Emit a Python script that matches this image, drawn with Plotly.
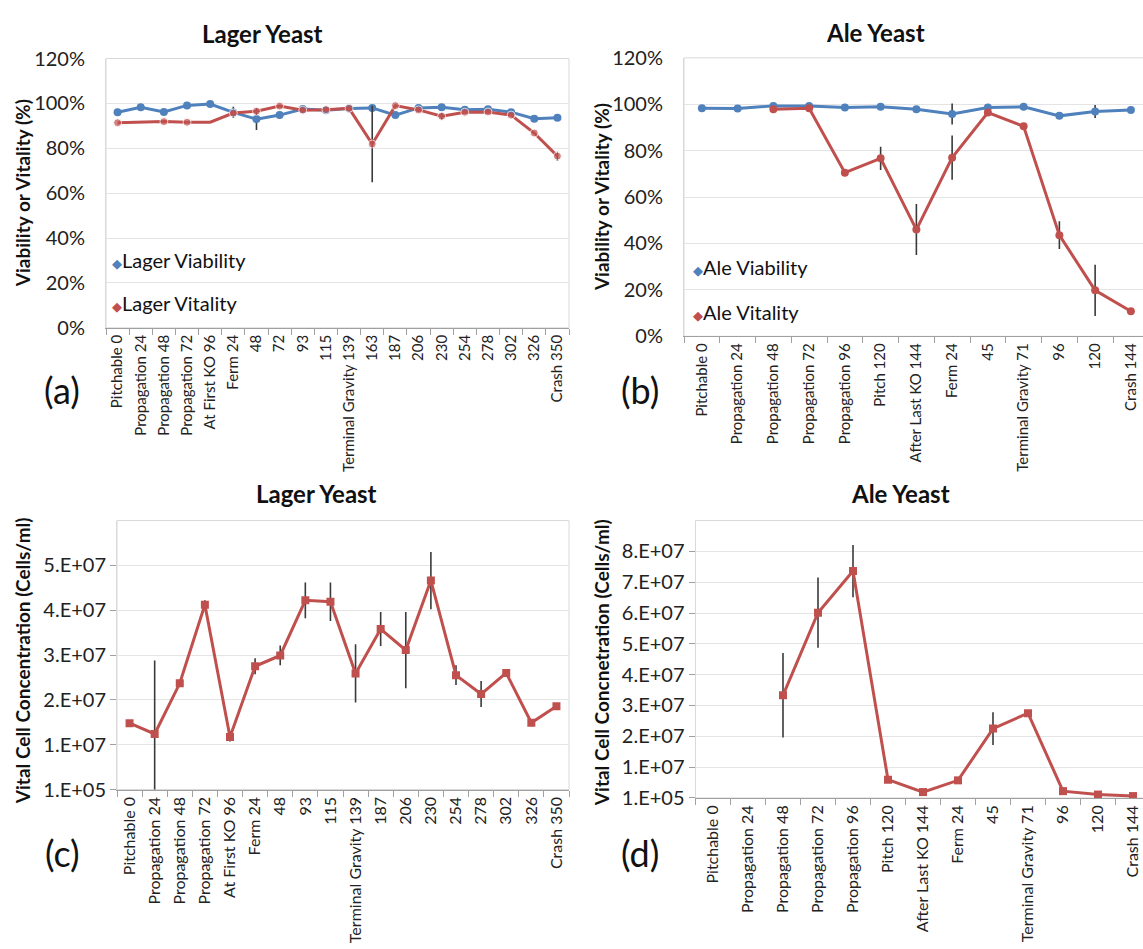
import plotly.graph_objects as go

# ---------------- data ----------------
LAGER_STAGES = ["Pitchable 0", "Propagation 24", "Propagation 48", "Propagation 72",
                "At First KO 96", "Ferm 24", "48", "72", "93", "115",
                "Terminal Gravity 139", "163", "187", "206", "230", "254", "278",
                "302", "326", "Crash 350"]
lager_viability = [96.1, 98.3, 96.2, 99.1, 99.7, 96.0, 93.0, 94.8, 97.5, 97.0,
                   97.7, 98.0, 94.8, 98.0, 98.3, 97.2, 97.4, 96.1, 93.2, 93.6]
lager_viability_err = [1.5, 0, 0, 0, 0, 2.5, 4.8, 1.5, 1.5, 0,
                       0, 0, 1.0, 0, 0, 0, 0, 0, 0, 0]
lager_vitality = [91.4, None, 91.9, 91.6, 91.6, 95.7, 96.5, 98.8, 97.0, 97.2,
                  97.8, 81.9, 99.0, 97.1, 94.3, 96.1, 96.2, 94.8, 86.8, 76.5]
lager_vitality_err = [0, 0, 0, 0, 0, 0, 0, 0, 0, 0,
                      0, 17.0, 0, 0, 1.5, 0, 0, 0, 0, 2.0]
lager_vitality_marker = [8, 8, 8, 8, 0, 8, 8, 8, 8, 8,
                         8, 8, 8, 8, 8, 8, 8, 8, 8, 8]

ALE_STAGES = ["Pitchable 0", "Propagation 24", "Propagation 48", "Propagation 72",
              "Propagation 96", "Pitch 120", "After Last KO 144", "Ferm 24", "45",
              "Terminal Gravity 71", "96", "120", "Crash 144"]
ale_viability = [98.3, 98.2, 99.3, 99.2, 98.6, 98.9, 97.8, 95.8, 98.6, 98.9, 95.0, 96.9, 97.5]
ale_viability_err = [0, 0, 0, 0, 0, 0, 0, 4.5, 0, 0, 0, 2.8, 0]
ale_vitality = [None, None, 97.9, 98.3, 70.5, 76.7, 46.0, 77.0, 96.4, 90.5, 43.6, 19.8, 10.8]
ale_vitality_err = [0, 0, 0, 0, 0, 5.0, 11.0, 9.5, 0, 0, 6.0, 11.0, 0]

LAGER_CONC_STAGES = ["Pitchable 0", "Propagation 24", "Propagation 48", "Propagation 72",
                     "At First KO 96", "Ferm 24", "48", "93", "115",
                     "Terminal Gravity 139", "187", "206", "230", "254", "278",
                     "302", "326", "Crash 350"]
lager_conc = [1.49e7, 1.25e7, 2.38e7, 4.13e7, 1.18e7, 2.76e7, 3.00e7, 4.23e7, 4.20e7,
              2.60e7, 3.59e7, 3.12e7, 4.67e7, 2.56e7, 2.14e7, 2.61e7, 1.50e7, 1.87e7]
lager_conc_err = [0, 1.64e7, 0, 0.10e7, 0.10e7, 0.18e7, 0.22e7, 0.40e7, 0.43e7,
                  0.65e7, 0.38e7, 0.85e7, 0.64e7, 0.22e7, 0.29e7, 0, 0.08e7, 0]

ale_conc = [None, None, 3.34e7, 6.02e7, 7.37e7, 0.60e7, 0.20e7, 0.58e7, 2.26e7,
            2.76e7, 0.23e7, 0.12e7, 0.07e7]
ale_conc_err = [0, 0, 1.37e7, 1.14e7, 0.85e7, 0, 0, 0, 0.53e7, 0, 0, 0, 0]

PCT_TICKS = [0, 20, 40, 60, 80, 100, 120]
PCT_LABELS = ["0%", "20%", "40%", "60%", "80%", "100%", "120%"]
CONC_TICKS_LAGER = [1e5, 1.01e7, 2.01e7, 3.01e7, 4.01e7, 5.01e7]
CONC_LABELS_LAGER = ["1.E+05", "1.E+07", "2.E+07", "3.E+07", "4.E+07", "5.E+07"]
CONC_TICKS_ALE = [1e5, 1.01e7, 2.01e7, 3.01e7, 4.01e7, 5.01e7, 6.01e7, 7.01e7, 8.01e7]
CONC_LABELS_ALE = ["1.E+05", "1.E+07", "2.E+07", "3.E+07", "4.E+07", "5.E+07",
                   "6.E+07", "7.E+07", "8.E+07"]

# ---------------- styling ----------------
W, H = 1143, 949
BLUE = "#4F81BD"
RED = "#C0504D"
ERR = "#3A3A3A"
GRID = "#E4E4E4"
FRAME = "#D9D9D9"
AXIS = "#A0A0A0"
FONT = "Lato"
TXT = "#222222"


def px_x(v):
    return v / W


def px_y(v):
    return 1 - v / H


fig = go.Figure()


def err(arr):
    return dict(type="data", array=arr, color=ERR, thickness=1.6, width=0, visible=True)


# panel a
fig.add_trace(go.Scatter(x=LAGER_STAGES, y=lager_viability, mode="lines+markers",
                         line=dict(color=BLUE, width=3), marker=dict(color=BLUE, size=8),
                         error_y=err(lager_viability_err), xaxis="x", yaxis="y",
                         showlegend=False))
fig.add_trace(go.Scatter(x=LAGER_STAGES, y=lager_vitality, mode="lines+markers",
                         connectgaps=True,
                         line=dict(color=RED, width=3),
                         marker=dict(color=RED, size=lager_vitality_marker),
                         error_y=err(lager_vitality_err), xaxis="x", yaxis="y",
                         showlegend=False))
# panel b
fig.add_trace(go.Scatter(x=ALE_STAGES, y=ale_viability, mode="lines+markers",
                         line=dict(color=BLUE, width=3), marker=dict(color=BLUE, size=8),
                         error_y=err(ale_viability_err), xaxis="x2", yaxis="y2",
                         showlegend=False))
fig.add_trace(go.Scatter(x=ALE_STAGES, y=ale_vitality, mode="lines+markers",
                         line=dict(color=RED, width=3), marker=dict(color=RED, size=8),
                         error_y=err(ale_vitality_err), xaxis="x2", yaxis="y2",
                         showlegend=False))
# panel c
fig.add_trace(go.Scatter(x=LAGER_CONC_STAGES, y=lager_conc, mode="lines+markers",
                         line=dict(color=RED, width=3),
                         marker=dict(color=RED, size=8, symbol="square"),
                         error_y=err(lager_conc_err), xaxis="x3", yaxis="y3",
                         showlegend=False))
# panel d
fig.add_trace(go.Scatter(x=ALE_STAGES, y=ale_conc, mode="lines+markers",
                         line=dict(color=RED, width=3),
                         marker=dict(color=RED, size=8, symbol="square"),
                         error_y=err(ale_conc_err), xaxis="x4", yaxis="y4",
                         showlegend=False))


def xaxis(anchor, domain, rng, cats, size):
    return dict(anchor=anchor, domain=domain, type="category", range=rng, showgrid=False,
                showline=True, linecolor=AXIS, linewidth=1,
                ticks="outside", ticklen=6, tickcolor=AXIS, tickson="boundaries",
                tickmode="array", tickvals=cats, tickangle=-90,
                tickfont=dict(family=FONT, size=size, color=TXT), zeroline=False,
                fixedrange=True)


def yaxis(anchor, domain, rng, vals, labels, tickcolor, ticklen):
    return dict(anchor=anchor, domain=domain, range=rng, showgrid=True, gridcolor=GRID,
                gridwidth=1, showline=True, linecolor=FRAME, zeroline=False,
                tickmode="array", tickvals=vals, ticktext=labels, ticks="outside",
                ticklen=ticklen, tickcolor=tickcolor,
                tickfont=dict(family=FONT, size=20, color=TXT), fixedrange=True)


# pixel layout of the four plot areas
A = dict(l=106, r=569, t=46.7, b=323)
B = dict(l=684, t=46, b=331.7, step=35.75)
C = dict(l=117, r=569, t=520.7, b=796.7)
D = dict(l=695.5, t=520.7, b=805.3, step=35.0)

fig.update_layout(
    width=W, height=H, margin=dict(l=0, r=0, t=0, b=0),
    paper_bgcolor="white", plot_bgcolor="white",
    font=dict(family=FONT, color=TXT),
    xaxis=xaxis("y", [px_x(A["l"]), px_x(A["r"])], [-0.5, len(LAGER_STAGES) - 0.5],
                LAGER_STAGES, 15),
    yaxis=yaxis("x", [px_y(A["b"]), px_y(A["t"])], [0, 120], PCT_TICKS, PCT_LABELS,
                "rgba(0,0,0,0)", 16),
    xaxis2=xaxis("y2", [px_x(B["l"]), 1], [-0.5, -0.5 + (W - B["l"]) / B["step"]],
                 ALE_STAGES, 15),
    yaxis2=yaxis("x2", [px_y(B["b"]), px_y(B["t"])], [0, 120], PCT_TICKS, PCT_LABELS,
                 "rgba(0,0,0,0)", 16),
    xaxis3=xaxis("y3", [px_x(C["l"]), px_x(C["r"])],
                 [-0.5, len(LAGER_CONC_STAGES) - 0.5], LAGER_CONC_STAGES, 16),
    yaxis3=yaxis("x3", [px_y(C["b"]), px_y(C["t"])], [1e5, 6.01e7], CONC_TICKS_LAGER,
                 CONC_LABELS_LAGER, AXIS, 6),
    xaxis4=xaxis("y4", [px_x(D["l"]), 1], [-0.5, -0.5 + (W - D["l"]) / D["step"]],
                 ALE_STAGES, 16),
    yaxis4=yaxis("x4", [px_y(D["b"]), px_y(D["t"])], [1e5, 9.01e7], CONC_TICKS_ALE,
                 CONC_LABELS_ALE, AXIS, 6),
)

# plot-area frames
shapes = []
for xa, ya, x1 in [("x", "y", 1), ("x2", "y2", 1.1), ("x3", "y3", 1), ("x4", "y4", 1.1)]:
    shapes.append(dict(type="rect", xref=f"{xa} domain", yref=f"{ya} domain",
                       x0=0, x1=x1, y0=0, y1=1, line=dict(color=FRAME, width=1),
                       layer="below"))
fig.update_layout(shapes=shapes)

ann = []


def text(x, y, s, size, bold=False, angle=0, xanchor="center"):
    if bold:
        s = f"<b>{s}</b>"
    ann.append(dict(x=px_x(x), y=px_y(y), xref="paper", yref="paper", text=s,
                    showarrow=False, textangle=angle, xanchor=xanchor, yanchor="middle",
                    font=dict(family=FONT, size=size, color="#111111")))


# chart titles (centred on each chart area)
text(262, 21, "Lager Yeast", 24, bold=True)
text(875, 20, "Ale Yeast", 24, bold=True)
text(316, 493, "Lager Yeast", 24, bold=True)
text(900, 493, "Ale Yeast", 24, bold=True)

# axis titles
text(22, (A["t"] + A["b"]) / 2, "Viability or Vitality (%)", 19, bold=True, angle=-90)
text(601, (B["t"] + B["b"]) / 2, "Viability or Vitality (%)", 19, bold=True, angle=-90)
text(22, 665, "Vital Cell Concentration (Cells/ml)", 19, bold=True, angle=-90)
text(601, 667, "Vital Cell Concnetration (Cells/ml)", 19, bold=True, angle=-90)

# panel letters
text(62, 387, "(a)", 36)
text(640, 387, "(b)", 36)
text(62, 862, "(c)", 36)
text(640, 862, "(d)", 36)


# in-plot legends
def key(x, y, color, label):
    s = f"<span style='color:{color};font-size:13px'>◆</span>{label}"
    text(x, y, s, 20, xanchor="left")


key(110, 253, BLUE, "Lager Viability")
key(110, 298, RED, "Lager Vitality")
key(691, 261, BLUE, "Ale Viability")
key(691, 307, RED, "Ale Vitality")

fig.update_layout(annotations=ann)

fig.write_html("out.html")
